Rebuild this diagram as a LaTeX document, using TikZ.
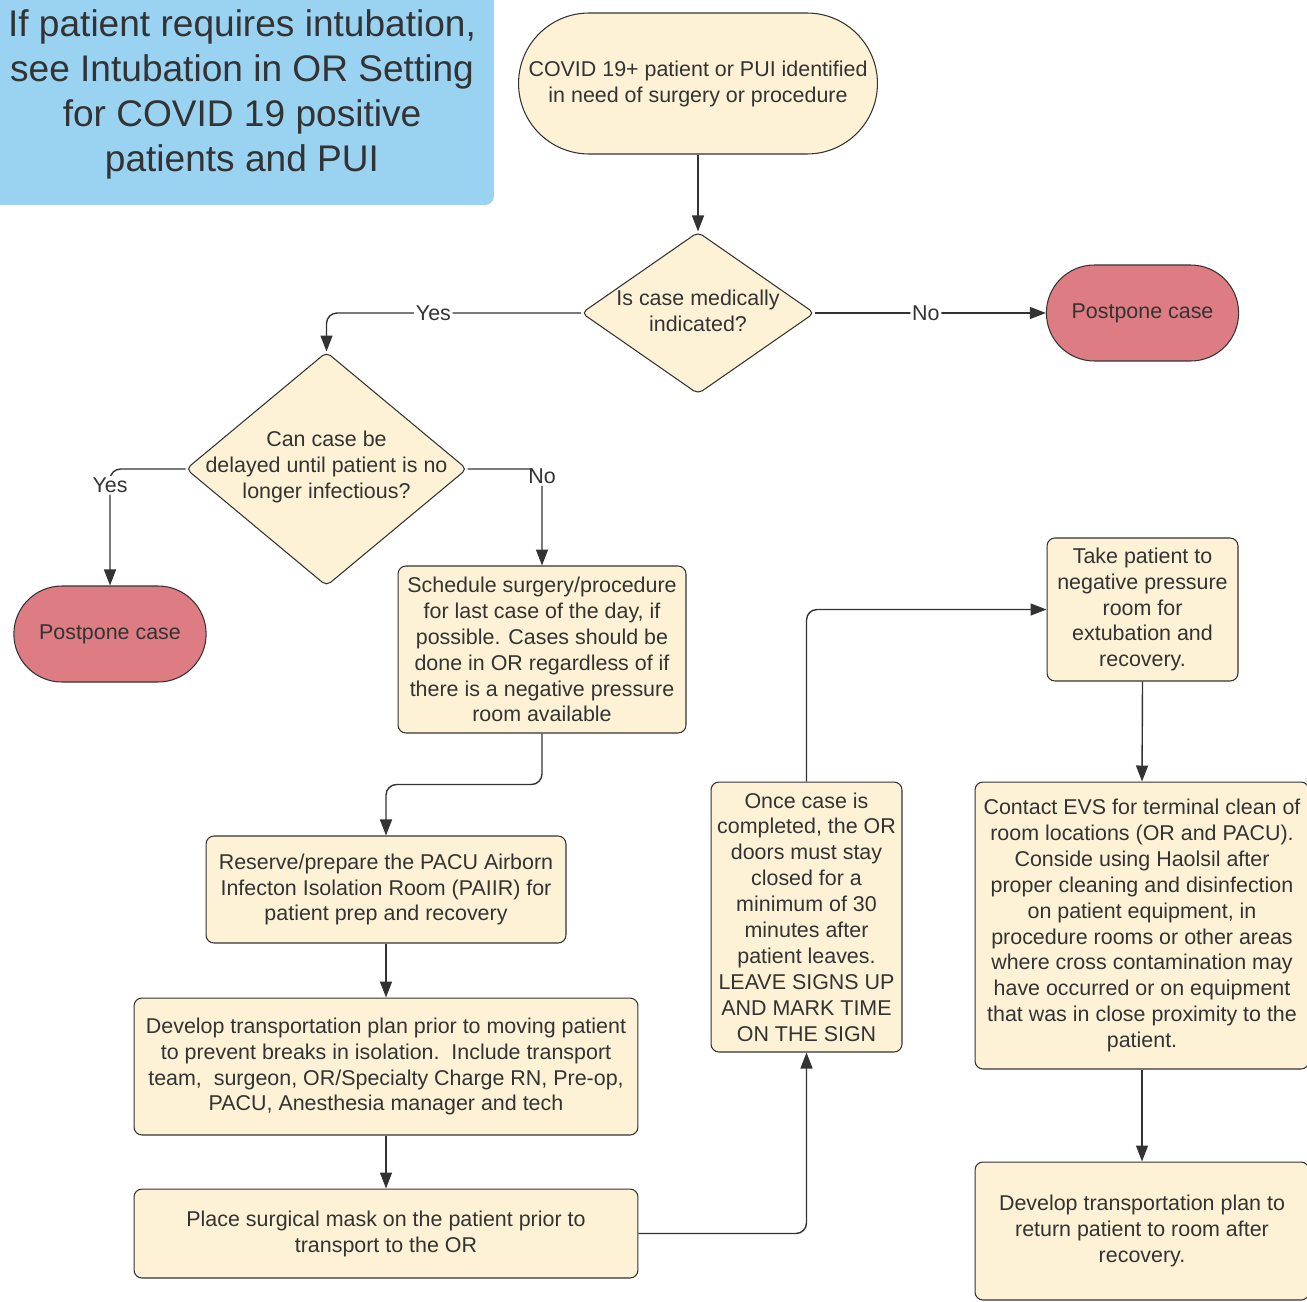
\documentclass[tikz,border=0pt]{standalone}
\usepackage{fontspec}
\setmainfont{Liberation Sans}
\usetikzlibrary{arrows.meta,calc,positioning,shapes.geometric,shapes.misc}
\definecolor{Ink}{HTML}{333333}
\definecolor{Cream}{HTML}{FEF2D6}
\definecolor{Rose}{HTML}{DE7C84}
\definecolor{Sky}{HTML}{9AD3F2}
\newcommand{\bodyfont}{\fontsize{12.2}{14.75}\selectfont}
\tikzset{
  terminal/.style={
    rounded rectangle, draw=Ink, line width=0.6pt, fill=Cream, text=Ink,
    align=center, font=\bodyfont, inner sep=2pt
  },
  stopcase/.style={
    rounded rectangle, draw=Ink, line width=0.6pt, fill=Rose, text=Ink,
    font=\bodyfont, minimum width=4.08cm, minimum height=1.92cm
  },
  decision/.style={
    diamond, draw=Ink, line width=0.6pt, fill=Cream, inner sep=0pt,
    rounded corners=3pt
  },
  qtext/.style={text=Ink, align=center, font=\bodyfont, yshift=1pt},
  process/.style={
    rounded corners=4.5pt, draw=Ink, line width=0.6pt, fill=Cream, text=Ink,
    align=center, font=\bodyfont, inner sep=2pt
  },
  note/.style={
    rounded corners=5pt, fill=Sky, text=Ink, align=center,
    font=\fontsize{21.1}{25.6}\selectfont
  },
  flow/.style={-{Triangle[length=3.2mm,width=2.4mm]}, line width=0.8pt, draw=Ink, rounded corners=6pt},
  answer/.style={fill=white, text=Ink, inner sep=1pt, font=\bodyfont}
}

\begin{document}
\begin{tikzpicture}[x=0.02cm,y=-0.02cm]
    \useasboundingbox (0,0) rectangle (1307,1301);
    \node[note, minimum width=10.08cm, minimum height=4.42cm] (intub) at (242,94.5)
      {If patient requires intubation,\\see Intubation in OR Setting\\for COVID 19 positive\\patients and PUI};
    \node[terminal, minimum width=7.32cm, minimum height=2.82cm] (start) at (698,83.5)
      {COVID 19+ patient or PUI identified\\in need of surgery or procedure};
    \node[decision, minimum width=4.66cm, minimum height=3.24cm,
      label={[qtext]center:{Is case medically\\indicated?}}] (indicated) at (698,313) {};
    \node[stopcase] (postpone1) at (1142.5,313) {Postpone case};
    \node[decision, minimum width=5.62cm, minimum height=4.68cm,
      label={[qtext]center:{Can case be\\delayed until patient is no\\longer infectious?}}] (delay) at (326.5,469) {};
    \node[stopcase] (postpone2) at (110,634) {Postpone case};
    \node[process, minimum width=5.76cm, minimum height=3.34cm] (schedule) at (542,649.5)
      {Schedule surgery/procedure\\for last case of the day, if\\possible. Cases should be\\done in OR regardless of if\\there is a negative pressure\\room available};
    \node[process, minimum width=7.2cm, minimum height=2.14cm] (reserve) at (386,889.5)
      {Reserve/prepare the PACU Airborn\\Infecton Isolation Room (PAIIR) for\\patient prep and recovery};
    \node[process, minimum width=10.08cm, minimum height=2.74cm] (develop) at (386,1066.5)
      {Develop transportation plan prior to moving patient\\to prevent breaks in isolation.\ \ Include transport\\team,\ \ surgeon, OR/Specialty Charge RN, Pre-op,\\PACU, Anesthesia manager and tech};
    \node[process, minimum width=10.08cm, minimum height=1.78cm] (mask) at (386,1233.5)
      {Place surgical mask on the patient prior to\\transport to the OR};
    \node[process, minimum width=3.82cm, minimum height=5.4cm] (doors) at (806.5,917)
      {Once case is\\completed, the OR\\doors must stay\\closed for a\\minimum of 30\\minutes after\\patient leaves.\\LEAVE SIGNS UP\\AND MARK TIME\\ON THE SIGN};
    \node[process, minimum width=3.82cm, minimum height=2.86cm] (negroom) at (1142.5,609.5)
      {Take patient to\\negative pressure\\room for\\extubation and\\recovery.};
    \node[process, minimum width=6.68cm, minimum height=5.74cm] (evs) at (1142,925.5)
      {Contact EVS for terminal clean of\\room locations (OR and PACU).\\Conside using Haolsil after\\proper cleaning and disinfection\\on patient equipment, in\\procedure rooms or other areas\\where cross contamination may\\have occurred or on equipment\\that was in close proximity to the\\patient.};
    \node[process, minimum width=6.68cm, minimum height=2.76cm] (return) at (1142,1231)
      {Develop transportation plan to\\return patient to room after\\recovery.};

    \draw[flow] (start.south) -- (indicated.north);
    \draw[flow] (indicated.west) -| node[answer,pos=0.29]{Yes} (delay.north);
    \draw[flow] (indicated.east) -- node[answer,pos=0.48]{No} (postpone1.west);
    \draw[flow] (delay.west) -| node[answer,pos=0.57]{Yes} (postpone2.north);
    \draw[flow] (delay.east) -| node[answer,pos=0.54]{No} (schedule.north);
    \draw[flow] (schedule.south) -- ++(0,51) -| (reserve.north);
    \draw[flow] (reserve.south) -- (develop.north);
    \draw[flow] (develop.south) -- (mask.north);
    \draw[flow] (mask.east) -| (doors.south);
    \draw[flow] (doors.north) |- (negroom.west);
    \draw[flow] (negroom.south) -- (evs.north);
    \draw[flow] (evs.south) -- (return.north);
\end{tikzpicture}
\end{document}
